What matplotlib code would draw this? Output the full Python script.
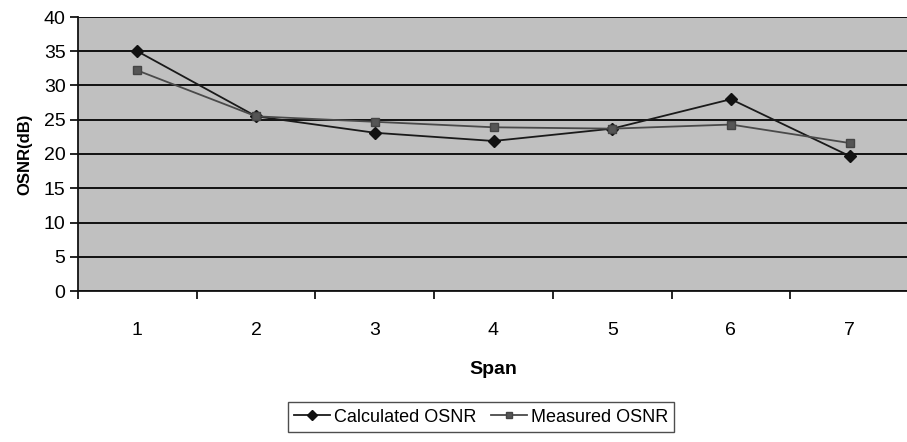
import numpy as np
import matplotlib
matplotlib.use("Agg")
import matplotlib.pyplot as plt
from matplotlib import font_manager

spans = [1, 2, 3, 4, 5, 6, 7]
calculated = [35.0, 25.5, 23.1, 21.9, 23.7, 28.0, 19.7]
measured = [32.2, 25.5, 24.7, 23.9, 23.7, 24.3, 21.6]

names = {f.name for f in font_manager.fontManager.ttflist}
narrow = "Liberation Sans Narrow" if "Liberation Sans Narrow" in names else "Liberation Sans"
plt.rcParams['font.family'] = [narrow, 'DejaVu Sans']

fig = plt.figure(figsize=(9.07, 4.42), dpi=100)
ax = fig.add_axes([78 / 907, 151 / 442, 831 / 907, 274 / 442])
ax.set_facecolor('#c0c0c0')

ax.plot(spans, calculated, color='#1a1a1a', lw=1.3, marker='D', ms=6,
        mfc='#111111', mec='#111111', label='Calculated OSNR', zorder=3)
ax.plot(spans, measured, color='#4a4a4a', lw=1.3, marker='s', ms=6,
        mfc='#555555', mec='#444444', label='Measured OSNR', zorder=3)

ax.set_xlim(0.5, 7.5)
ax.set_ylim(0, 40)
ax.set_yticks(np.arange(0, 41, 5))
ax.yaxis.grid(True, color='#111111', lw=1.4)
ax.set_axisbelow(True)

ax.set_xticks(spans)
ax.set_xticks(np.arange(0.5, 7.6, 1), minor=True)
ax.tick_params(axis='x', which='major', length=0, pad=22, labelsize=14)
ax.tick_params(axis='x', which='minor', length=6, width=1.2, direction='out')
ax.tick_params(axis='y', length=6, width=1.2, labelsize=14, pad=3)

for s in ['top', 'right']:
    ax.spines[s].set_visible(False)
for s in ['left', 'bottom']:
    ax.spines[s].set_linewidth(1.3)
    ax.spines[s].set_color('#111111')

ax.set_xlabel('Span', fontsize=14, fontweight='bold', labelpad=16)
ax.set_ylabel('OSNR(dB)', fontsize=12, fontweight='bold', labelpad=8)

leg = fig.legend(loc='center', bbox_to_anchor=(481 / 907, 25 / 442), ncol=2,
                 fontsize=13, frameon=True, fancybox=False, handlelength=2.0,
                 handletextpad=0.2, columnspacing=0.8, borderpad=0.35,
                 markerscale=0.8)
leg.get_frame().set_edgecolor('#222222')
leg.get_frame().set_linewidth(1.0)

fig.savefig('out.png', dpi=100)
